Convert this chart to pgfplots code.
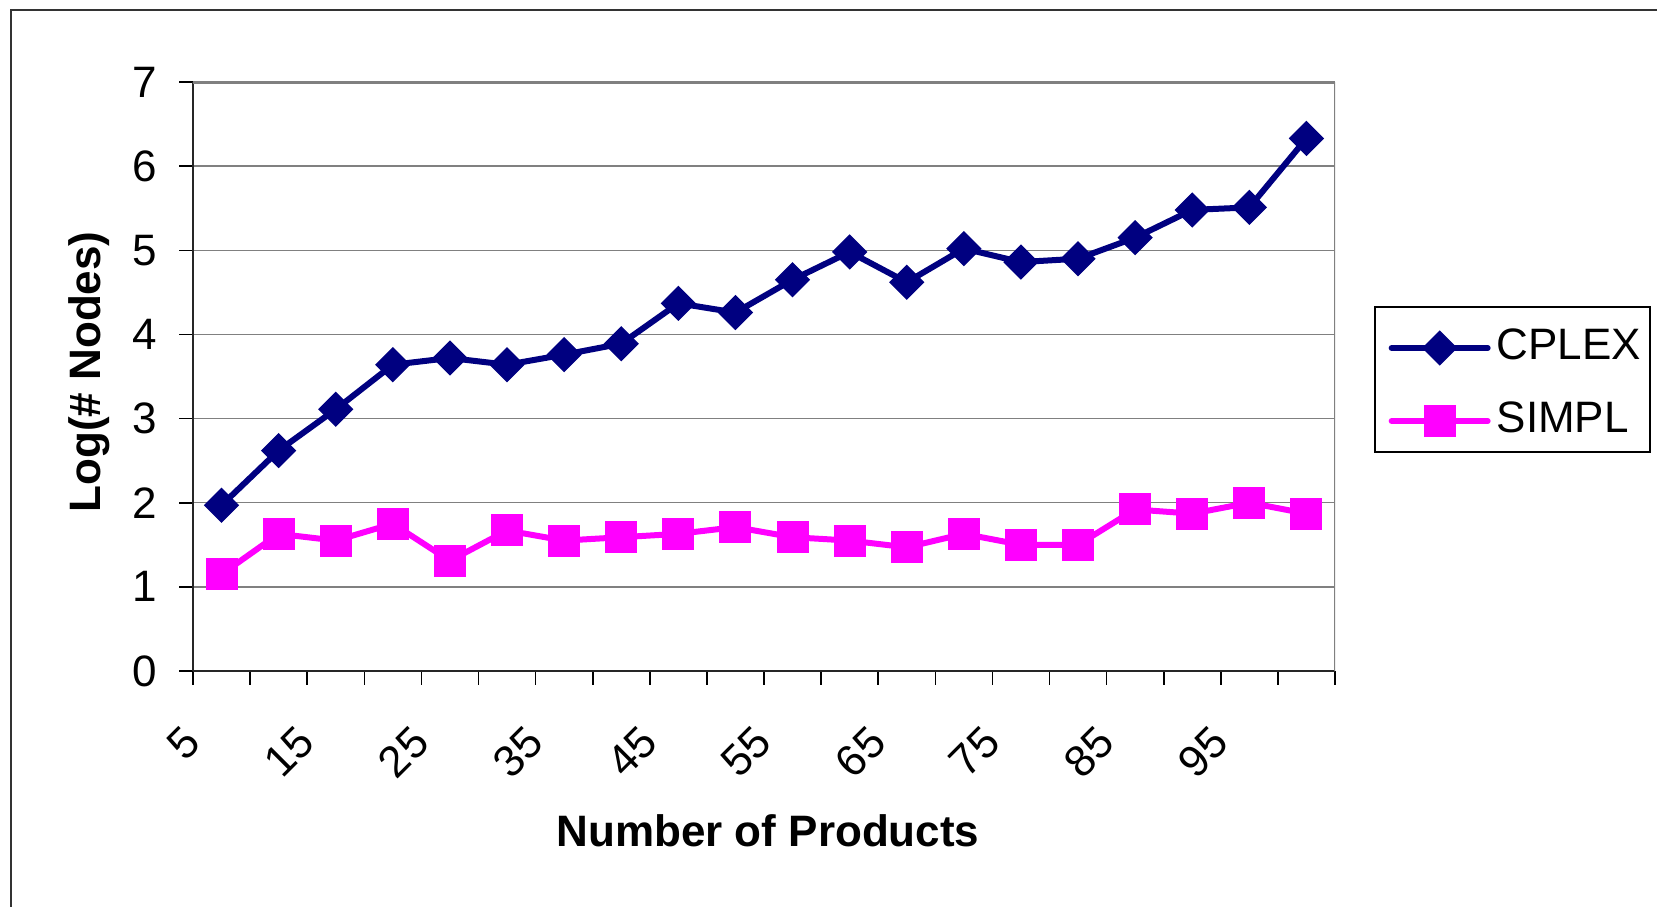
\documentclass[border=0pt]{standalone}
\usepackage{fontspec}
\setmainfont{Liberation Sans}
\usepackage{pgfplots}
\pgfplotsset{compat=1.18}
\definecolor{cplex}{RGB}{0,0,128}
\definecolor{simpl}{RGB}{255,0,255}
\definecolor{gridgray}{RGB}{128,128,128}
\begin{document}
\fontsize{11}{13}\selectfont
\begin{tikzpicture}
\path[use as bounding box] (-48.25pt,-59pt) rectangle (366pt,167.75pt);
\draw[line width=0.55pt, black!80] (-45.5pt,-70pt) -- (-45.5pt,165.25pt) -- (380pt,165.25pt);
\begin{axis}[
  scale only axis,
  width=285.5pt, height=147.25pt,
  xmin=0, xmax=20, ymin=0, ymax=7,
  xtick={0,2,...,18},
  xticklabels={5,15,25,35,45,55,65,75,85,95},
  minor xtick={1,3,...,19,20},
  ytick={0,...,7},
  /pgf/number format/assume math mode=true,
  ymajorgrids,
  grid style={gridgray, line width=0.35pt},
  axis x line*=bottom, axis y line*=left,
  axis line style={black!85, line width=0.5pt, -},
  tick align=outside,
  major tick length=3.4pt,
  minor tick length=3.4pt,
  tick style={black, line width=0.4pt},
  minor tick style={black, line width=0.4pt},
  xticklabel style={rotate=45, anchor=east, inner sep=0pt, font=\fontsize{11}{13}\selectfont},
  xticklabel shift=12.4pt,
  yticklabel style={anchor=east, inner sep=0pt, font=\fontsize{11}{13}\selectfont},
  yticklabel shift=5.3pt,
  xlabel={\textbf{Number of Products}},
  xlabel style={at={(axis description cs:0.5035,-0.2716)}, anchor=center, font=\fontsize{11}{13}\selectfont},
  ylabel={\textbf{Log(\# Nodes)}},
  ylabel style={at={(axis description cs:-0.0911,0.5076)}, anchor=center, font=\fontsize{11}{13}\selectfont},
  legend style={at={(axis description cs:1.0342,0.6197)}, anchor=north west,
    draw=black, line width=0.5pt, inner xsep=2.3pt, inner ysep=5pt,
    row sep=10.25pt, column sep=1.5pt,
    font=\fontsize{11}{13}\selectfont,
    nodes={inner sep=0pt, text height=8pt, text depth=0pt}},
  legend cell align=left,
  legend image code/.code={%
    \path[use as bounding box, draw=none, fill=none] (-1.1pt,-2.75pt) rectangle (25.5pt,3.15pt);
    \draw[mark repeat=2, mark phase=2, line cap=round, #1] plot coordinates {(0.75pt,-1.25pt) (12.75pt,-1.25pt) (24.75pt,-1.25pt)};},
]
\addplot[cplex, line width=1.5pt, mark=square*, mark size=2.97pt,
  mark options={rotate=45, solid, line width=0.3pt}] coordinates {
  (0.5,1.97) (1.5,2.62) (2.5,3.11) (3.5,3.64) (4.5,3.72)
  (5.5,3.64) (6.5,3.76) (7.5,3.89) (8.5,4.37) (9.5,4.26)
  (10.5,4.65) (11.5,4.98) (12.5,4.62) (13.5,5.02) (14.5,4.86)
  (15.5,4.90) (16.5,5.15) (17.5,5.48) (18.5,5.51) (19.5,6.33)};
\addlegendentry{CPLEX}
\addplot[simpl, line width=1.5pt, mark=square*, mark size=3.85pt,
  mark options={solid, line width=0.3pt}] coordinates {
  (0.5,1.15) (1.5,1.63) (2.5,1.55) (3.5,1.75) (4.5,1.31)
  (5.5,1.67) (6.5,1.55) (7.5,1.59) (8.5,1.63) (9.5,1.71)
  (10.5,1.59) (11.5,1.55) (12.5,1.47) (13.5,1.63) (14.5,1.50)
  (15.5,1.50) (16.5,1.92) (17.5,1.87) (18.5,2.00) (19.5,1.87)};
\addlegendentry{SIMPL}
\draw[gridgray, line width=0.75pt] (rel axis cs:0,1) -- (rel axis cs:1,1) -- (rel axis cs:1,0);
\end{axis}
\end{tikzpicture}
\end{document}
